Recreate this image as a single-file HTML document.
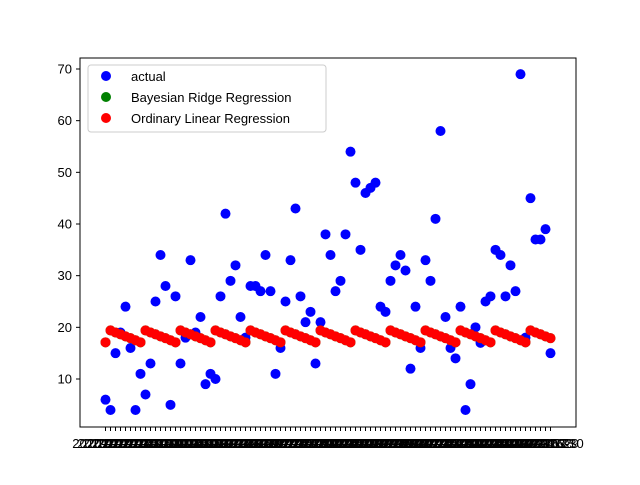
<!DOCTYPE html>
<html><head><meta charset="utf-8"><style>
body{margin:0;background:#fff}
svg{font-family:"Liberation Sans","DejaVu Sans",sans-serif}
</style></head><body>
<svg id="chart" width="640" height="480" xmlns="http://www.w3.org/2000/svg">
<rect width="640" height="480" fill="#fff"/>
<g id="plot"></g>
<rect x="80" y="58" width="496" height="369" fill="none" stroke="#000" stroke-width="1"/>
<g id="yt"></g>
<g id="xt"></g>
<g>
<rect x="88" y="65" width="238" height="67" rx="3" fill="#fff" fill-opacity="0.8" stroke="#ccc"/>
<circle cx="106" cy="76" r="5" fill="blue"/>
<text x="131" y="81" font-size="13">actual</text>
<circle cx="106" cy="97" r="5" fill="green"/>
<text x="131" y="102" font-size="13">Bayesian Ridge Regression</text>
<circle cx="106" cy="118" r="5" fill="red"/>
<text x="131" y="123" font-size="13">Ordinary Linear Regression</text>
</g>
</svg>
<script>
const actual=[6,4,15,19,24,16,4,11,7,13,25,34,28,5,26,13,18,33,19,22,9,11,10,26,42,29,32,22,18,28,28,27,34,27,11,16,25,33,43,26,21,23,13,21,38,34,27,29,38,54,48,35,46,47,48,24,23,29,32,34,31,12,24,16,33,29,41,58,22,16,14,24,4,9,20,17,25,26,35,34,26,32,27,69,18,45,37,37,39,15];
const weekEffect=[19.4,19.0,18.65,18.25,17.9,17.5,17.1];
const firstPred=[17.1];
const yTicks=[10,20,30,40,50,60,70];
const categories=actual.map((_,i)=>{const d=new Date(2020,0,1+i);return d.getFullYear()+"-"+String(d.getMonth()+1).padStart(2,"0")+"-"+String(d.getDate()).padStart(2,"0");});
const ols=actual.map((_,i)=>i===0?firstPred[0]:weekEffect[(i-1)%7]);
const bayes=ols.slice();
const NS="http://www.w3.org/2000/svg";
function xs(i){return 105.5+5*i;}
function ys(v){return 379-(v-10)*5.1667;}
const plot=document.getElementById('plot'),yt=document.getElementById('yt'),xt=document.getElementById('xt');
function mk(t,a,p){const e=document.createElementNS(NS,t);for(const k in a)e.setAttribute(k,a[k]);p.appendChild(e);return e;}
actual.forEach((v,i)=>{const c=mk('circle',{cx:xs(i),cy:ys(v),r:5,fill:'blue'},plot);

});
bayes.forEach((v,i)=>{const c=mk('circle',{cx:xs(i),cy:ys(v),r:5,fill:'green'},plot);

});
ols.forEach((v,i)=>{const c=mk('circle',{cx:xs(i),cy:ys(v),r:5,fill:'red'},plot);

});
yTicks.forEach(v=>{const l=mk('line',{x1:76,x2:80,y1:ys(v),y2:ys(v),stroke:'#000'},yt);


const t=mk('text',{x:72,y:ys(v)+4.5,'font-size':13,'text-anchor':'end'},yt);t.textContent=v;

});
categories.forEach((c,i)=>{const l=mk('line',{x1:xs(i),x2:xs(i),y1:427,y2:431,stroke:'#000'},xt);


const t=mk('text',{x:xs(i),y:448,'font-size':13,'text-anchor':'middle'},xt);t.textContent=c;

});
</script>
</body></html>
